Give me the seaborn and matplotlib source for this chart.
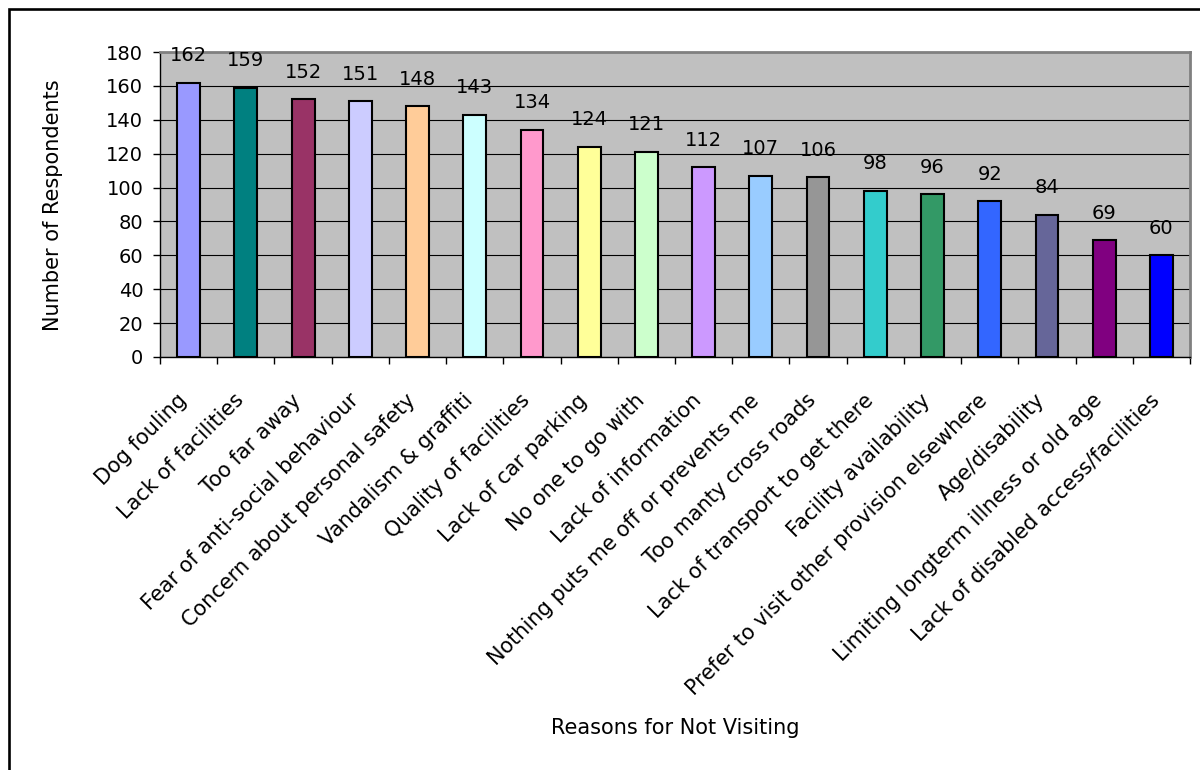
import matplotlib
matplotlib.use("Agg")
import matplotlib.pyplot as plt
import matplotlib.transforms as mtransforms
import seaborn as sns
import pandas as pd
from matplotlib.patches import Rectangle

reasons = [
    "Dog fouling",
    "Lack of facilities",
    "Too far away",
    "Fear of anti-social behaviour",
    "Concern about personal safety",
    "Vandalism & graffiti",
    "Quality of facilities",
    "Lack of car parking",
    "No one to go with",
    "Lack of information",
    "Nothing puts me off or prevents me",
    "Too manty cross roads",
    "Lack of transport to get there",
    "Facility availability",
    "Prefer to visit other provision elsewhere",
    "Age/disability",
    "Limiting longterm illness or old age",
    "Lack of disabled access/facilities",
]
respondents = [162, 159, 152, 151, 148, 143, 134, 124, 121, 112,
               107, 106, 98, 96, 92, 84, 69, 60]
bar_colors = [
    "#9999FF", "#008080", "#993366", "#CCCCFF", "#FFCC99", "#CCFFFF",
    "#FF99CC", "#FFFF99", "#CCFFCC", "#CC99FF", "#99CCFF", "#969696",
    "#33CCCC", "#339966", "#3366FF", "#666699", "#800080", "#0000FF",
]
y_ticks = [0, 20, 40, 60, 80, 100, 120, 140, 160, 180]

df = pd.DataFrame({"reason": reasons, "count": respondents})

sns.set_theme(style="white")
plt.rcParams["font.family"] = ["DejaVu Sans"]
plt.rcParams.update({
    "text.color": "black",
    "axes.labelcolor": "black",
    "xtick.color": "black",
    "ytick.color": "black",
})

W, H = 1200, 770
fig = plt.figure(figsize=(W / 100, H / 100), dpi=100)
fig.patch.set_facecolor("white")

# outer chart frame (runs past the right and bottom edges of the canvas)
fig.patches.append(Rectangle((8.7 / W, 1 - 790 / H), (1230 - 8.7) / W, (790 - 9.3) / H,
                             transform=fig.transFigure, fill=False,
                             edgecolor="black", linewidth=1.9, zorder=0))

left, right, top, bottom = 160, 1190, 52, 357
ax = fig.add_axes([left / W, 1 - bottom / H, (right - left) / W, (bottom - top) / H])
ax.set_facecolor("#C0C0C0")

sns.barplot(data=df, x="reason", y="count", hue="reason", palette=bar_colors,
            legend=False, width=0.40, edgecolor="black", linewidth=1.5,
            saturation=1, ax=ax, zorder=3)

ax.set_ylim(0, 180)
ax.set_xlim(-0.5, len(reasons) - 0.5)
ax.set_yticks(y_ticks)
ax.set_yticklabels([str(v) for v in y_ticks], fontsize=14, color="black")
ax.yaxis.grid(True, color="black", linewidth=0.8, zorder=1)
ax.set_axisbelow(True)

# category labels, with ticks drawn between categories
ax.set_xticks(range(len(reasons)))
ax.set_xticklabels(reasons, rotation=45, ha="right", va="center",
                   rotation_mode="anchor", fontsize=15, color="black")
ax.tick_params(axis="x", length=0, pad=29)
shift = mtransforms.ScaledTranslation(-5 / 100, 0, fig.dpi_scale_trans)
for lbl in ax.get_xticklabels():
    lbl.set_transform(lbl.get_transform() + shift)
ax.set_xticks([i - 0.5 for i in range(len(reasons) + 1)], minor=True)
ax.tick_params(axis="x", which="minor", length=5, width=1, color="black",
               direction="out", bottom=True)
ax.tick_params(axis="y", length=5, width=1, color="black", direction="out",
               left=True, pad=7)

for side in ["top", "right"]:
    ax.spines[side].set_color("#808080")
    ax.spines[side].set_linewidth(2)
for side in ["left", "bottom"]:
    ax.spines[side].set_color("black")
    ax.spines[side].set_linewidth(1)

for i, v in enumerate(respondents):
    ax.annotate(str(v), (i, v), xytext=(0, 15.5), textcoords="offset points",
                ha="center", va="baseline", fontsize=14, color="black",
                annotation_clip=False, zorder=5)

ax.set_xlabel("")
ax.set_ylabel("")
fig.text(53 / W, 1 - 205 / H, "Number of Respondents", rotation=90,
         ha="center", va="center", fontsize=15, color="black")
fig.text((left + right) / 2 / W, 1 - 734 / H, "Reasons for Not Visiting",
         ha="center", va="baseline", fontsize=15, color="black")

fig.savefig("out.png", dpi=100, facecolor="white")
